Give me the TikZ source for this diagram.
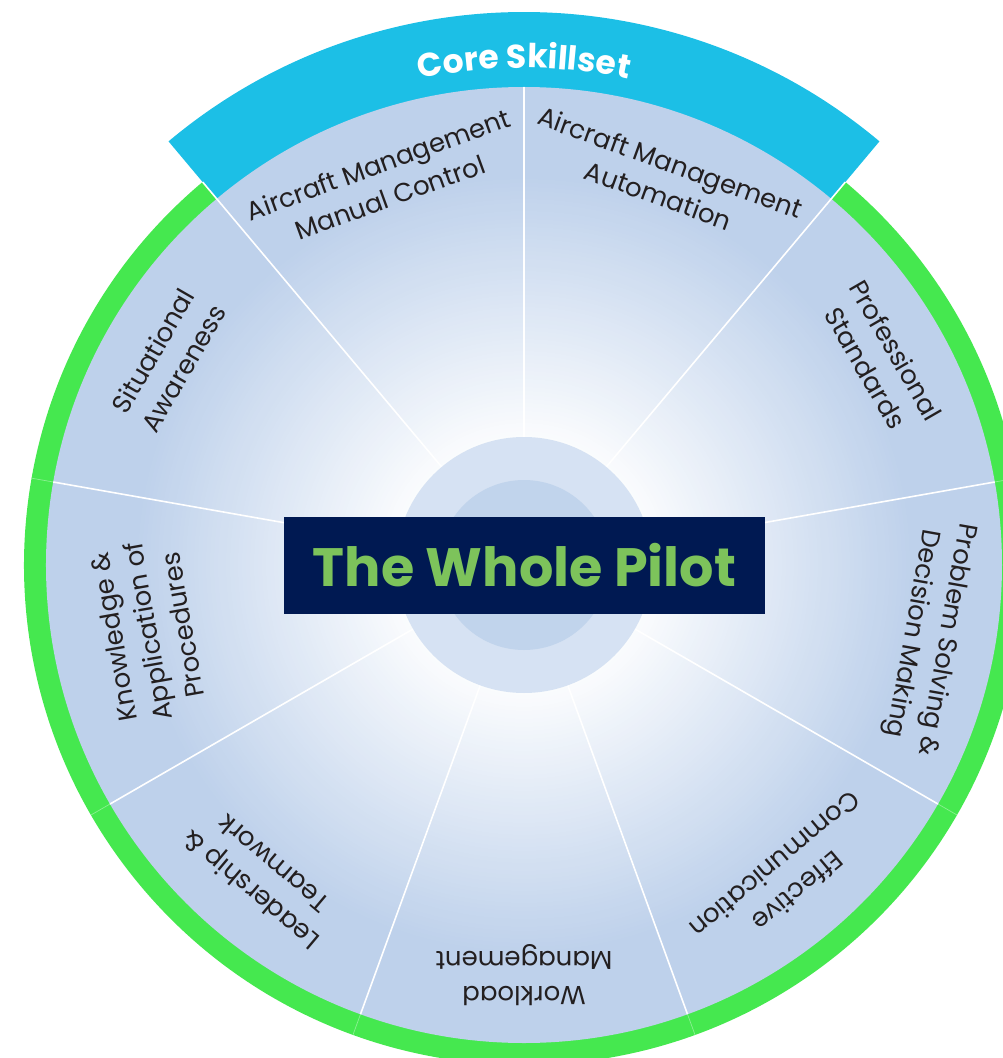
\documentclass[tikz,border=0pt]{standalone}
\usepackage{fontspec}
\setmainfont{Poppins}
\usetikzlibrary{decorations.text}
\definecolor{diskblue}{HTML}{BED1EB}
\definecolor{bandblue}{HTML}{1CBFE6}
\definecolor{ringgreen}{HTML}{45E84F}
\definecolor{seamgreen}{HTML}{8AF091}
\definecolor{navy}{HTML}{001952}
\definecolor{titlegreen}{HTML}{7DC35B}
\definecolor{hubout}{HTML}{D6E2F3}
\definecolor{hubin}{HTML}{C1D4EC}
\definecolor{labeltext}{HTML}{231F20}
\begin{document}
\begin{tikzpicture}[x=1pt,y=1pt,
  lab/.style={font=\fontsize{26}{35}\selectfont, text=labeltext, align=center, inner sep=0pt},
  divider/.style={draw=white, line width=1.6pt},
  seam/.style={draw=seamgreen, line width=0.7pt}]
\useasboundingbox (-524,-493) rectangle (479,565);
\coordinate (hub) at (0,0);
% green outer ring
\fill[ringgreen] (130:500) arc[start angle=130, end angle=410, radius=500]
  -- (410:476) arc[start angle=410, end angle=130, radius=476] -- cycle;
% blue band
\fill[bandblue] (130:476) arc[start angle=130, end angle=50, radius=476]
  -- (50:553) arc[start angle=50, end angle=130, radius=553] -- cycle;
% main disk with radial gradient (concentric rings)
\foreach \r in {478,474,...,106} {
  \pgfmathsetmacro\p{min(100,max(0,(\r-110)/2.8))}
  \fill[diskblue!\p!white] (hub) circle[radius=\r];
}
% seams in green ring
\foreach \a in {170,210,250,290,330,10}
  \draw[seam] (\a:478) -- (\a:500);
% dividers
\foreach \a in {10,90,170,210,250,290,330}
  \draw[divider] (hub) -- (\a:478);
\foreach \a in {50,130}
  \draw[divider] (hub) -- (\a:500);
% hub circles
\fill[hubout] (hub) circle[radius=128];
\fill[hubin] (hub) circle[radius=85];
% title
\node[fill=navy, minimum width=481pt, minimum height=97pt, inner sep=0pt,
  text=titlegreen, font=\fontsize{54}{54}\selectfont\bfseries] (title) at (0.5,0) {The Whole Pilot};
% core skillset
\path[decorate, decoration={text along path, text align=center,
  text={|\fontsize{33}{33}\selectfont\bfseries\color{white}|Core Skillset}}]
  (130:497) arc[start angle=130, end angle=50, radius=497];
% labels
\node[lab, rotate=20] (amc) at (110:409) {Aircraft Management\\Manual Control};
\node[lab, rotate=-20] (ama) at (70:411) {Aircraft Management\\Automation};
\node[lab, rotate=-60] (ps) at (30:412) {Professional\\Standards};
\node[lab, rotate=-100] (psdm) at (-10:411) {Problem Solving \&\\Decision Making};
\node[lab, rotate=-140] (ec) at (-50:409) {Effective\\Communication};
\node[lab, rotate=180] (wm) at (-90:410) {Workload\\Management};
\node[lab, rotate=140] (lt) at (-130:408) {Leadership \&\\Teamwork};
\node[lab, rotate=100] (kap) at (-170:382) {Knowledge \&\\Application of\\Procedures};
\node[lab, rotate=60] (sa) at (150:411) {Situational\\Awareness};
\end{tikzpicture}
\end{document}
